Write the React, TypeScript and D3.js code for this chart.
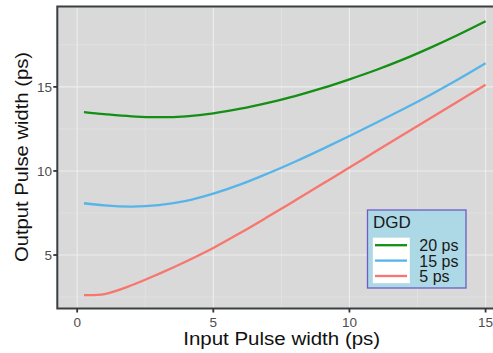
import React, { useEffect, useRef } from "react";
import * as d3 from "d3";

// input pulse width (ps)
const inputWidth = [0.25, 1, 2, 3, 4, 5, 6, 7, 8, 9, 10, 11, 12, 13, 14, 15];
// output pulse width for each DGD
const dgd20 = [13.5, 13.38, 13.25, 13.2, 13.25, 13.42, 13.7, 14.05, 14.45, 14.92, 15.45, 16.02, 16.65, 17.35, 18.1, 18.9];
const dgd15 = [8.08, 7.95, 7.88, 7.97, 8.22, 8.65, 9.2, 9.85, 10.55, 11.3, 12.08, 12.88, 13.7, 14.55, 15.45, 16.4];
const dgd5 = [2.62, 2.68, 3.2, 3.88, 4.62, 5.42, 6.32, 7.27, 8.24, 9.22, 10.2, 11.2, 12.18, 13.17, 14.15, 15.12];

const seriesNames = ["20 ps", "15 ps", "5 ps"];
const seriesValues = [dgd20, dgd15, dgd5];
const seriesColors = ["#138f13", "#56b4e9", "#f8766d"];

const xTicks = [0, 5, 10, 15];
const yTicks = [5, 10, 15];
const xMinor = [2.5, 7.5, 12.5];
const yMinor = [2.5, 7.5, 12.5, 17.5];

const W = 493;
const H = 353;

export default function App() {
  const svgRef = useRef<SVGSVGElement | null>(null);

  useEffect(() => {
    if (!svgRef.current) return;
    const svg = d3.select(svgRef.current);
    svg.selectAll("*").remove();

    const left = 57.3;
    const top = 6.5;
    const bottom = 308.5;
    const right = 506;

    const x = d3.scaleLinear().domain([-0.73, 15.75]).range([left, right]);
    const y = d3.scaleLinear().domain([1.82, 19.78]).range([bottom, top]);

    // panel
    svg
      .append("rect")
      .attr("x", left)
      .attr("y", top)
      .attr("width", right - left)
      .attr("height", bottom - top)
      .attr("fill", "#d9d9d9");

    const grid = svg.append("g");
    grid
      .selectAll("line.xmin")
      .data(xMinor)
      .join("line")
      .attr("x1", (d) => x(d))
      .attr("x2", (d) => x(d))
      .attr("y1", top)
      .attr("y2", bottom)
      .attr("stroke", "#e6e6e6")
      .attr("stroke-width", 0.6);
    grid
      .selectAll("line.ymin")
      .data(yMinor)
      .join("line")
      .attr("x1", left)
      .attr("x2", right)
      .attr("y1", (d) => y(d))
      .attr("y2", (d) => y(d))
      .attr("stroke", "#e6e6e6")
      .attr("stroke-width", 0.6);
    grid
      .selectAll("line.xmaj")
      .data(xTicks)
      .join("line")
      .attr("x1", (d) => x(d))
      .attr("x2", (d) => x(d))
      .attr("y1", top)
      .attr("y2", bottom)
      .attr("stroke", "#ededed")
      .attr("stroke-width", 1.1);
    grid
      .selectAll("line.ymaj")
      .data(yTicks)
      .join("line")
      .attr("x1", left)
      .attr("x2", right)
      .attr("y1", (d) => y(d))
      .attr("y2", (d) => y(d))
      .attr("stroke", "#ededed")
      .attr("stroke-width", 1.1);

    // curves
    const line = d3
      .line<number>()
      .x((_, i) => x(inputWidth[i]))
      .y((d) => y(d))
      .curve(d3.curveCatmullRom.alpha(0.5));

    seriesValues.forEach((vals, k) => {
      svg
        .append("path")
        .attr("d", line(vals)!)
        .attr("fill", "none")
        .attr("stroke", seriesColors[k])
        .attr("stroke-width", 2.3);
    });

    // panel border
    svg
      .append("rect")
      .attr("x", left)
      .attr("y", top)
      .attr("width", right - left)
      .attr("height", bottom - top)
      .attr("fill", "none")
      .attr("stroke", "#3a3f42")
      .attr("stroke-width", 2);

    // axes
    const font = "Liberation Sans, Arial, sans-serif";
    svg
      .selectAll("line.xt")
      .data(xTicks)
      .join("line")
      .attr("x1", (d) => x(d))
      .attr("x2", (d) => x(d))
      .attr("y1", bottom)
      .attr("y2", bottom + 4)
      .attr("stroke", "#333")
      .attr("stroke-width", 1.8);
    svg
      .selectAll("text.xl")
      .data(xTicks)
      .join("text")
      .attr("x", (d) => x(d))
      .attr("y", 327)
      .attr("text-anchor", "middle")
      .attr("font-family", font)
      .attr("font-size", 13.5)
      .attr("fill", "#4d4d4d")
      .text((d) => d);
    svg
      .selectAll("line.yt")
      .data(yTicks)
      .join("line")
      .attr("x1", left - 4)
      .attr("x2", left)
      .attr("y1", (d) => y(d))
      .attr("y2", (d) => y(d))
      .attr("stroke", "#333")
      .attr("stroke-width", 1.8);
    svg
      .selectAll("text.yl")
      .data(yTicks)
      .join("text")
      .attr("x", 52)
      .attr("y", (d) => y(d) + 5)
      .attr("text-anchor", "end")
      .attr("font-family", font)
      .attr("font-size", 13.5)
      .attr("fill", "#4d4d4d")
      .text((d) => d);

    svg
      .append("text")
      .attr("x", 281.7)
      .attr("y", 345)
      .attr("text-anchor", "middle")
      .attr("font-family", font)
      .attr("font-size", 17.5)
      .attr("textLength", 197)
      .attr("lengthAdjust", "spacingAndGlyphs")
      .attr("fill", "#111")
      .text("Input Pulse width (ps)");
    svg
      .append("text")
      .attr("transform", "translate(27.5,157) rotate(-90)")
      .attr("text-anchor", "middle")
      .attr("font-family", font)
      .attr("font-size", 17.5)
      .attr("textLength", 210)
      .attr("lengthAdjust", "spacingAndGlyphs")
      .attr("fill", "#111")
      .text("Output Pulse width (ps)");

    // legend
    const lg = svg.append("g").attr("transform", "translate(367.5,210)");
    lg.append("rect")
      .attr("width", 98.5)
      .attr("height", 78)
      .attr("fill", "#add8e6")
      .attr("stroke", "#6a5fc4")
      .attr("stroke-width", 1.3);
    lg.append("text")
      .attr("x", 5.5)
      .attr("y", 18.3)
      .attr("font-family", font)
      .attr("font-size", 17)
      .attr("fill", "#1a1a1a")
      .text("DGD");
    lg.append("rect")
      .attr("x", 5.3)
      .attr("y", 27.7)
      .attr("width", 37)
      .attr("height", 45.5)
      .attr("fill", "#ffffff");
    const rowY = d3.scalePoint<string>().domain(seriesNames).range([35.2, 66]);
    seriesNames.forEach((name, k) => {
      const yy = rowY(name)!;
      lg.append("line")
        .attr("x1", 7.5)
        .attr("x2", 39.5)
        .attr("y1", yy)
        .attr("y2", yy)
        .attr("stroke", seriesColors[k])
        .attr("stroke-width", 2.3);
      lg.append("text")
        .attr("x", 51.8)
        .attr("y", yy + 6)
        .attr("font-family", font)
        .attr("font-size", 16)
        .attr("fill", "#1a1a1a")
        .text(name);
    });
  }, []);

  return (
    <svg
      ref={svgRef}
      width={W}
      height={H}
      style={{ position: "absolute", left: 0, top: 0, background: "#fff" }}
    />
  );
}
